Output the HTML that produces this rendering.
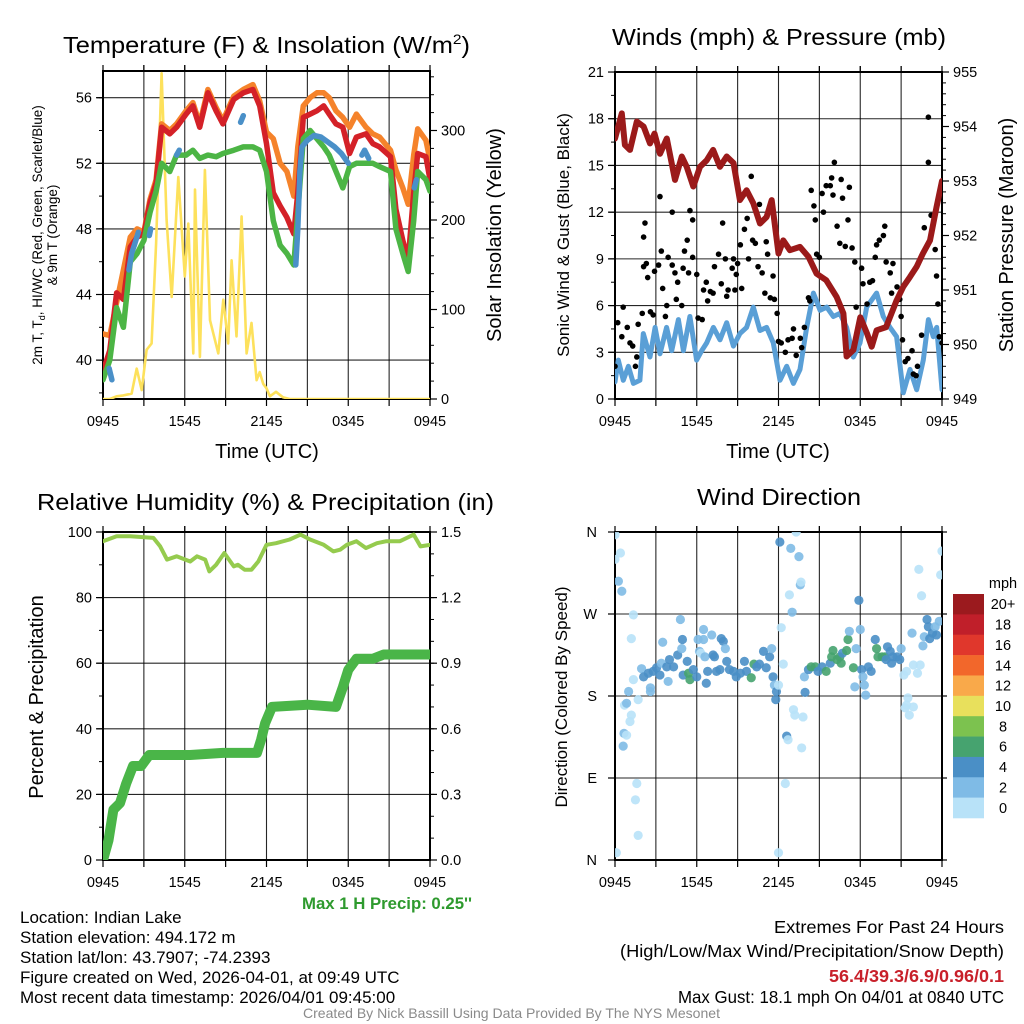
<!DOCTYPE html>
<html><head><meta charset="utf-8"><style>
html,body{margin:0;padding:0;background:#fff;}
svg{display:block;font-family:"Liberation Sans",sans-serif;}
</style></head><body>
<svg id="chart" width="1024" height="1024" viewBox="0 0 1024 1024" xmlns="http://www.w3.org/2000/svg">
<defs>
<clipPath id="c1"><rect x="103" y="71" width="327" height="328"/></clipPath>
<clipPath id="c2"><rect x="615" y="72" width="327" height="327"/></clipPath>
<clipPath id="c3"><rect x="103" y="532" width="327" height="328"/></clipPath>
<clipPath id="c4"><rect x="615" y="532" width="327" height="328"/></clipPath>
</defs>
<rect width="1024" height="1024" fill="#fff"/>
<text x="63" y="53" font-size="23" textLength="407" lengthAdjust="spacingAndGlyphs">Temperature (F) &amp; Insolation (W/m<tspan dy="-9" font-size="14">2</tspan><tspan dy="9">)</tspan></text>
<text x="612" y="45" font-size="23" textLength="334" lengthAdjust="spacingAndGlyphs">Winds (mph) &amp; Pressure (mb)</text>
<text x="37" y="510" font-size="23" textLength="457" lengthAdjust="spacingAndGlyphs">Relative Humidity (%) &amp; Precipitation (in)</text>
<text x="697" y="505" font-size="23" textLength="164" lengthAdjust="spacingAndGlyphs">Wind Direction</text>
<text x="267" y="458" font-size="20" text-anchor="middle">Time (UTC)</text>
<text x="778" y="458" font-size="20" text-anchor="middle">Time (UTC)</text>
<text transform="translate(42,235) rotate(-90)" font-size="13.5" text-anchor="middle">2m T, T<tspan font-size="9" dy="3">d</tspan><tspan dy="-3">, HI/WC (Red, Green, Scarlet/Blue)</tspan></text>
<text transform="translate(57,235) rotate(-90)" font-size="13.5" text-anchor="middle">&amp; 9m T (Orange)</text>
<text transform="translate(501,235) rotate(-90)" font-size="20" text-anchor="middle">Solar Insolation (Yellow)</text>
<text transform="translate(569,235) rotate(-90)" font-size="17" text-anchor="middle">Sonic Wind &amp; Gust (Blue, Black)</text>
<text transform="translate(1013,235) rotate(-90)" font-size="20" text-anchor="middle">Station Pressure (Maroon)</text>
<text transform="translate(43,697) rotate(-90)" font-size="20" text-anchor="middle">Percent &amp; Precipitation</text>
<text transform="translate(567,697) rotate(-90)" font-size="17" text-anchor="middle">Direction (Colored By Speed)</text>
<text x="302" y="909" font-size="16.8" font-weight="bold" fill="#2e9a2e" textLength="170" lengthAdjust="spacingAndGlyphs">Max 1 H Precip: 0.25''</text>
<g font-size="17" fill="#000">
<text x="20" y="923">Location: Indian Lake</text>
<text x="20" y="943">Station elevation: 494.172 m</text>
<text x="20" y="963">Station lat/lon: 43.7907; -74.2393</text>
<text x="20" y="983">Figure created on Wed, 2026-04-01, at 09:49 UTC</text>
<text x="20" y="1003">Most recent data timestamp: 2026/04/01 09:45:00</text>
</g>
<g font-size="17.5">
<text x="774" y="933" textLength="230" lengthAdjust="spacingAndGlyphs">Extremes For Past 24 Hours</text>
<text x="620" y="957" textLength="384" lengthAdjust="spacingAndGlyphs">(High/Low/Max Wind/Precipitation/Snow Depth)</text>
<text x="829" y="982" font-weight="bold" fill="#c8202a" textLength="175" lengthAdjust="spacingAndGlyphs">56.4/39.3/6.9/0.96/0.1</text>
<text x="678" y="1003" textLength="326" lengthAdjust="spacingAndGlyphs">Max Gust: 18.1 mph On 04/01 at 0840 UTC</text>
</g>
<text x="303" y="1018" font-size="14" fill="#8a8a8a" textLength="417" lengthAdjust="spacingAndGlyphs">Created By Nick Bassill Using Data Provided By The NYS Mesonet</text>
<g id="plots"></g>
</svg>
<script>
// ---------- Panel 1 data (hours since 0945 UTC) ----------
const redT = [0,0.5,1.0,1.5,2.0,2.5,3.0,3.45,3.9,4.3,4.9,5.4,6.1,6.6,7.1,7.7,8.3,8.8,9.6,10.3,11.0,11.5,12.0,12.5,13.0,13.5,14.0,14.3,14.7,15.2,15.7,16.2,16.6,17.1,17.6,18.1,18.6,19.3,19.8,20.3,21.1,21.5,22.0,22.4,22.8,23.1,23.7,24.0];
const redV = [39.3,40.6,44.1,43.7,46.9,47.5,47.7,49.6,50.8,54.2,53.8,54.2,55.0,55.5,54.2,56.3,55.2,54.4,55.9,56.3,56.5,55.5,53.2,50.2,49.4,48.7,47.7,50.2,54.8,55.0,55.2,55.5,55.0,54.4,54.2,52.6,53.6,53.8,53.2,53.0,52.4,49.2,47.3,46.1,50.2,52.6,52.4,51.0];
const orangeV = [41.6,41.5,43.5,45.5,47.5,48.0,47.8,49.8,51.0,54.4,54.0,54.4,55.2,55.7,54.4,56.5,55.4,54.6,56.1,56.5,56.8,55.8,53.9,53.5,52.0,51.5,50.0,53.0,55.5,56.0,56.3,56.3,56.0,55.2,54.8,54.2,55.0,54.2,53.8,53.6,52.8,51.6,50.5,49.5,52.5,54.1,53.4,52.2];
const greenV = [38.8,40.0,43.2,42.0,46.0,46.5,47.3,49.0,50.3,52.0,51.5,52.5,52.5,52.8,52.3,52.5,52.4,52.6,52.8,53.0,53.0,52.8,51.5,48.5,47.0,46.5,45.8,49.0,53.5,54.0,53.5,53.0,52.5,51.5,50.5,51.8,52.0,52.0,52.0,51.8,51.5,48.0,46.5,45.4,48.5,51.5,51.0,50.3];
const blueT = [0.45,0.65,null,1.9,2.1,2.3,2.6,null,3.4,3.5,null,5.4,5.6,null,10.1,10.3,null,14.15,14.3,14.45,14.6,15.0,15.5,16.0,16.5,17.0,17.5,18.0,null,19.0,19.2,19.5,null,22.85,23.0];
const blueV = [39.5,38.8,null,45.5,46.5,47.0,47.8,null,47.6,48.0,null,52.5,52.8,null,54.5,54.9,null,45.8,48.0,51.5,53.0,53.4,53.7,53.6,53.3,53.0,52.6,52.0,null,52.5,52.8,52.3,null,50.5,51.0];
const solarT = [0,0.5,1.0,1.5,2.1,2.47,2.84,3.2,3.57,3.9,4.3,4.67,5.04,5.53,6.0,6.26,6.63,6.75,7.11,7.48,7.85,8.46,8.83,9.19,9.44,9.8,10.17,10.54,10.9,11.27,11.5,11.76,12.0,12.25,12.7,13.2,13.7,24];
const solarV = [0,0,3,4,6,34,10,55,62,174,364,200,114,248,137,196,51,234,47,256,88,51,111,62,155,70,204,51,85,21,30,17,12,3,8,2,0,0];
// ---------- Panel 2 data ----------
const presT = [0,0.5,0.73,1.1,1.6,2.1,2.57,2.9,3.3,3.8,4.4,4.9,5.26,5.75,6.24,6.73,7.2,7.7,8.2,8.7,9.17,9.66,10.15,10.64,11.13,11.5,12.0,12.35,12.84,13.58,14.2,14.8,15.5,16.27,16.76,17.0,17.5,18.0,18.5,18.84,19.2,19.9,20.67,21.16,21.65,22.14,22.6,23.12,23.6,24.0];
const presV = [953.78,954.24,953.66,953.57,954.09,954.0,953.69,953.87,953.5,953.78,953.02,953.45,953.26,952.9,953.26,953.38,953.57,953.26,953.45,953.33,952.65,952.83,952.59,952.22,952.34,952.65,951.67,951.91,951.73,951.79,951.61,951.3,951.18,950.87,950.57,949.78,949.9,950.5,950.2,949.96,950.26,950.32,950.81,951.06,951.24,951.43,951.67,951.91,952.52,953.0];
const windT = [0,0.24,0.61,0.98,1.35,1.83,2.08,2.57,2.94,3.3,3.79,4.16,4.65,5.02,5.5,5.99,6.36,6.73,7.22,7.71,8.2,8.69,9.17,9.66,10.15,10.64,11.13,11.62,12.11,12.6,13.09,13.58,14.07,14.56,15.05,15.54,16.02,16.51,17.0,17.49,17.98,18.47,19.2,19.69,20.18,20.67,21.16,21.65,22.14,22.63,23.0,23.36,23.61,24.0];
const windV = [1.1,2.5,1.2,2.1,1.0,1.2,4.2,2.7,4.6,2.9,4.6,3.1,5.1,3.1,5.3,2.5,3.1,3.6,4.6,3.8,4.9,3.4,4.2,4.6,5.9,4.4,4.6,3.6,1.2,2.1,1.0,1.9,4.6,6.8,5.7,5.9,5.3,5.5,4.6,2.7,3.6,5.9,6.8,5.3,4.6,4.0,0.4,1.9,0.6,2.5,5.1,4.0,4.6,0.6];
const gustT = [0.0,0.2,0.5,0.6,0.9,1.1,1.3,1.5,1.6,1.7,2.0,2.1,2.2,2.1,2.3,2.4,2.6,2.8,2.9,3.2,3.3,3.4,3.5,3.7,3.8,3.9,4.2,4.2,4.4,4.5,4.6,4.9,5.0,5.1,5.3,5.4,5.5,5.7,5.7,6.0,6.1,6.4,6.5,6.7,6.8,7.0,7.2,7.3,7.6,7.8,7.9,8.1,8.2,8.3,8.6,8.7,8.8,8.9,9.0,9.2,9.3,9.5,9.7,9.8,10.0,10.1,10.3,10.5,10.6,10.8,11.0,11.1,11.2,11.4,11.6,11.7,11.9,12.0,12.2,12.5,12.7,13.0,13.1,13.3,13.6,13.7,13.9,14.2,14.3,14.4,14.6,14.7,14.8,15.0,15.2,15.3,15.5,15.8,15.9,16.0,16.1,16.3,16.5,16.6,16.7,16.9,17.1,17.2,17.4,17.6,17.7,18.0,18.1,18.2,18.5,18.7,18.9,19.1,19.2,19.4,19.7,19.8,19.9,20.2,20.3,20.4,20.7,20.9,21.0,21.1,21.3,21.5,21.8,21.9,22.1,22.2,22.5,22.7,23.0,23.0,23.2,23.5,23.6,23.7,23.8,24.0];
const gustV = [2.1,4.9,4.0,5.9,4.6,3.6,3.4,2.1,2.7,4.8,5.5,10.4,11.3,8.5,8.7,7.8,5.6,5.4,8.2,8.6,13.0,9.5,7.1,5.3,6.0,9.1,12.0,8.6,8.1,6.4,7.5,6.0,8.4,9.5,10.2,8.1,12.1,11.5,9.1,8.0,5.2,5.1,7.0,7.5,6.3,6.9,6.8,8.5,9.3,7.4,11.3,9.0,6.6,7.0,8.4,9.0,7.0,8.0,8.7,9.9,7.1,10.9,11.6,9.0,14.3,10.2,10.0,8.5,12.5,8.1,6.8,10.1,9.3,6.5,7.9,6.4,5.5,3.7,3.6,3.0,3.8,3.9,4.5,2.8,3.9,3.3,4.6,6.5,6.3,13.4,12.4,11.5,9.3,9.1,13.2,12.0,13.7,13.7,14.2,13.1,15.2,11.1,10.0,14.1,12.9,9.8,11.5,13.6,9.7,8.8,5.9,4.9,8.4,7.4,6.1,7.5,7.6,9.1,9.9,10.2,10.5,11.1,8.8,8.1,6.8,8.7,7.2,6.4,5.3,3.8,2.4,2.6,3.1,1.6,1.5,2.1,4.1,11.0,18.1,15.2,11.8,9.6,7.9,6.1,4.0,3.6];
// ---------- Panel 3 data ----------
const rhT = [0,1.0,2.0,3.7,4.2,4.7,5.4,6.4,6.9,7.5,7.8,8.3,8.9,9.6,9.9,10.4,10.9,11.4,12.0,12.7,13.7,14.5,15.2,16.2,16.9,17.4,17.9,18.6,19.3,20.1,20.8,21.8,22.8,23.3,24.0];
const rhV = [97.2,98.7,98.7,98.2,95.6,91.6,92.6,91.0,92.6,91.6,88.0,90.0,93.6,89.5,90.0,88.5,88.5,91.0,96.1,96.6,97.7,99.2,97.7,96.1,94.1,94.6,96.1,97.2,95.1,96.6,97.2,97.2,99.2,95.6,96.1];
const precipT = [0,0.4,0.76,1.25,1.7,2.2,2.8,3.4,6.4,8.8,11.3,11.6,11.9,12.4,15.0,17.1,17.6,18.0,18.6,19.8,20.6,24.0];
const precipV = [0,0.09,0.23,0.26,0.35,0.43,0.43,0.48,0.48,0.49,0.49,0.55,0.625,0.70,0.71,0.70,0.79,0.87,0.92,0.92,0.94,0.94];
// ---------- Panel 4 data ----------
const dirT = [0,0.4,0,0.25,0.5,1.35,1.2,1.35,1.0,0.7,0.85,1.2,1.1,0.66,0.85,0.6,1.6,1.5,1.7,0.1,1.7,1.95,2.1,2.6,2.6,2.45,2.8,3.05,3.3,3.5,3.4,3.8,3.9,4.0,4.3,4.6,4.8,4.9,4.95,5.0,5.3,5.4,5.5,5.75,6.0,6.1,6.2,6.3,6.5,6.5,6.6,6.7,6.8,7.1,7.2,7.3,7.45,7.7,7.8,7.95,8.1,8.2,8.4,8.7,8.9,9.2,9.5,9.65,10.0,10.2,10.4,10.6,10.9,11.1,11.35,11.5,11.6,11.7,11.85,11.8,12.0,12.1,12.0,12.2,12.35,12.5,12.6,12.7,12.8,12.9,13.0,13.1,13.2,13.3,13.5,13.6,13.65,13.7,13.8,13.9,13.95,14.2,14.4,14.7,14.9,15.2,15.5,15.8,15.9,16.0,16.3,16.5,16.6,16.7,17.0,17.1,17.2,17.5,17.6,17.7,17.9,18.0,18.1,18.2,18.3,18.4,18.6,18.8,19.1,19.2,19.3,19.6,19.8,19.9,20.0,20.2,20.3,20.4,20.7,20.9,21.0,21.2,21.4,21.5,21.3,21.4,21.6,21.9,21.8,21.9,22.2,22.4,22.3,22.5,22.6,22.7,22.9,23.0,23.1,23.3,23.5,23.6,23.8,24.0,23.9];
const dirDeg = [357,337,330,306,295,269,243,198,185,170,172,159,152,139,137,125,84,66,27,8,176,210,201,189,185,205,207,211,203,239,216,212,196,220,212,225,264,232,242,203,218,205,198,209,201,242,229,227,253,242,223,194,207,247,225,223,207,209,243,240,232,218,209,207,201,205,218,207,200,215,212,215,229,211,223,232,201,192,185,176,192,349,8,255,215,84,136,132,291,342,272,165,159,360,333,302,305,123,157,201,184,209,212,212,207,212,207,216,223,230,220,223,216,227,230,242,251,211,190,232,285,253,209,201,192,181,212,207,242,232,223,223,223,220,234,229,216,223,223,220,232,203,207,178,167,170,159,168,249,214,205,214,319,290,235,245,264,256,243,249,256,247,262,339,313];
const dirSpd = [1,1,1,3,3,1,1,1,3,1,3,1,1,3,1,3,1,1,1,1,1,3,4.5,3,3,4.5,4.5,4.5,4.5,3,3,4.5,3,4.5,4.5,4.5,3,3,4.5,4.5,4.5,7,7,4.5,4.5,3,3,1,3,3,3,4.5,4.5,3,4.5,4.5,4.5,4.5,4.5,4.5,3,4.5,4.5,4.5,4.5,4.5,4.5,4.5,7,7,4.5,4.5,4.5,4.5,4.5,3,4.5,3,4.5,4.5,1,4.5,1,1,1,1,4.5,1,1,3,3,1,1,1,3,3,1,1,1,3,4.5,4.5,7,7,4.5,4.5,7,4.5,7,7,7,7,7,4.5,7,7,3,7,3,3,4.5,3,4.5,3,3,3,4.5,4.5,4.5,7,7,7,7,4.5,4.5,4.5,4.5,4.5,4.5,4.5,3,1,1,1,1,1,1,1,3,1,1,1,1,1,3,3,4.5,4.5,4.5,4.5,3,4.5,3,1,1];
const cbLabels = ["20+","18","16","14","12","10","8","6","4","2","0"];
const cbColors = ["#9b1a1e","#c01f2a","#e0372c","#f2672b","#f9a94a","#e8e05c","#7cc24f","#46a36f","#4a8fc6","#7fbbe6","#b8e2f8"];
const timeLabels = ["0945","1545","2145","0345","0945"];

const NS = "http://www.w3.org/2000/svg";
const root = document.getElementById("plots");
function mk(tag, attrs, parent) {
  const el = document.createElementNS(NS, tag);
  for (const k in attrs) el.setAttribute(k, attrs[k]);
  (parent || root).appendChild(el);
  return el;
}
function txt(str, attrs, parent) { const t = mk("text", attrs, parent); t.textContent = str; return t; }

const P1 = {x0:103,x1:430,y0:71,y1:399};
const P2 = {x0:615,x1:942,y0:72,y1:399};
const P3 = {x0:103,x1:430,y0:532,y1:860};
const P4 = {x0:615,x1:942,y0:532,y1:860};
function xs(P, h) { return P.x0 + h / 24 * (P.x1 - P.x0); }
const y1L = v => 97.7 + (56 - v) * 16.4;
const y1R = v => 399 - v * 0.895;
const y2L = v => 399 - v * 15.57;
const y2R = p => 399 - (p - 949) * 54.5;
const y3L = v => 860 - v * 3.28;
const y3R = p => 860 - p / 1.5 * 328;
const y4 = d => 860 - d / 360 * 328;

function frame(P, name, gridYs) {
  const g = mk("g", {});
  
  
  for (let h = 3; h < 24; h += 3) {
    const gl = mk("line", {x1:xs(P,h),x2:xs(P,h),y1:P.y0-6,y2:P.y1,stroke:"#000","stroke-width":1.1,"stroke-opacity":0.85}, g);
    
    
  }
  gridYs.forEach(y => {
    const gl = mk("line", {x1:P.x0-6,x2:P.x1,y1:y,y2:y,stroke:"#000","stroke-width":1.1,"stroke-opacity":0.85}, g);
    
    
  });
  for (let h = 0; h <= 24; h += 3) {
    mk("line", {x1:xs(P,h),x2:xs(P,h),y1:P.y1,y2:P.y1+7,stroke:"#000","stroke-width":1.2}, g);
    mk("line", {x1:xs(P,h),x2:xs(P,h),y1:P.y0,y2:P.y0-6,stroke:"#000","stroke-width":1.2}, g);
  }
  timeLabels.forEach((s, i) => {
    const t = txt(s, {x:xs(P,i*6),y:P.y1+27,"font-size":14.5,"text-anchor":"middle"}, g);
    
    
  });
  const b = mk("rect", {x:P.x0,y:P.y0,width:P.x1-P.x0,height:P.y1-P.y0,fill:"none",stroke:"#000","stroke-width":2}, g);
  
  
  return g;
}
function yAxis(P, side, name, majors, minors, scale, fmt) {
  const g = mk("g", {});
  
  
  const x = side === "left" ? P.x0 : P.x1;
  const dir = side === "left" ? -1 : 1;
  minors.forEach(v => mk("line", {x1:x,x2:x+dir*4,y1:scale(v),y2:scale(v),stroke:"#000","stroke-width":1}, g));
  majors.forEach(v => {
    mk("line", {x1:x,x2:x+dir*7,y1:scale(v),y2:scale(v),stroke:"#000","stroke-width":1.2}, g);
    const t = txt(fmt(v), {x:x+dir*11,y:scale(v)+5,"font-size":14.5,"text-anchor":side==="left"?"end":"start"}, g);
    
    
  });
}
function range(a, b, s) { const r = []; for (let v = a; v <= b + 1e-9; v += s) r.push(+v.toFixed(3)); return r; }
function pathD(P, ts, vs, scale) {
  let d = "", pen = false;
  for (let i = 0; i < ts.length; i++) {
    if (ts[i] === null || vs[i] === null) { pen = false; continue; }
    d += (pen ? "L" : "M") + xs(P, ts[i]).toFixed(1) + "," + scale(vs[i]).toFixed(1);
    pen = true;
  }
  return d;
}
function line(P, clip, ts, vs, scale, color, w, name) {
  const p = mk("path", {d:pathD(P, ts, vs, scale),fill:"none",stroke:color,"stroke-width":w,"stroke-linejoin":"round","stroke-linecap":"round","clip-path":"url(#"+clip+")"});
  
  
  return p;
}

// ---------- Panel 1 ----------
frame(P1, "temperature", [56,52,48,44,40].map(y1L));
yAxis(P1, "left", "temperature-y-axis", [40,44,48,52,56], range(38,57,2), y1L, v => String(v));
yAxis(P1, "right", "insolation-y-axis", [0,100,200,300], range(0,360,20), y1R, v => String(v));
line(P1, "c1", solarT, solarV, y1R, "#fde15c", 2.6, "solar-insolation-line");
line(P1, "c1", redT, orangeV, y1L, "#f5832b", 5.5, "9m-temperature-line");
line(P1, "c1", redT, redV, y1L, "#d42128", 5.5, "2m-temperature-line");
line(P1, "c1", redT, greenV, y1L, "#4cb545", 5.5, "dewpoint-line");
line(P1, "c1", blueT, blueV, y1L, "#4a90c8", 5.5, "heat-index-wind-chill-line");

// ---------- Panel 2 ----------
frame(P2, "winds", [3,6,9,12,15,18].map(y2L));
yAxis(P2, "left", "wind-speed-y-axis", [0,3,6,9,12,15,18,21], range(1.5,19.5,3), y2L, v => String(v));
yAxis(P2, "right", "pressure-y-axis", [949,950,951,952,953,954,955], range(949,955,0.2), y2R, v => String(v));
line(P2, "c2", windT, windV, y2L, "#5a9fd6", 5, "sonic-wind-line");
const gg = mk("g", {"clip-path":"url(#c2)"});


for (let i = 0; i < gustT.length; i++) {
  const c = mk("circle", {cx:xs(P2,gustT[i]),cy:y2L(gustV[i]),r:2.8,fill:"#000"}, gg);
  
  
}
line(P2, "c2", presT, presV, y2R, "#9b1a1a", 6, "station-pressure-line");

// ---------- Panel 3 ----------
frame(P3, "humidity", [20,40,60,80].map(y3L));
yAxis(P3, "left", "percent-y-axis", [0,20,40,60,80,100], range(10,90,20), y3L, v => String(v));
yAxis(P3, "right", "precip-y-axis", [0,0.3,0.6,0.9,1.2,1.5], range(0,1.5,0.1), y3R, v => v.toFixed(1));
line(P3, "c3", rhT, rhV, y3L, "#95cb4e", 4, "relative-humidity-line");
line(P3, "c3", precipT, precipV, y3R, "#4ab548", 10, "accumulated-precip-line");

// ---------- Panel 4 ----------
frame(P4, "direction", [90,180,270].map(y4));
const dirLabels = ["N","E","S","W","N"];
const dg = mk("g", {});


[0,90,180,270,360].forEach((d, i) => {
  mk("line", {x1:P4.x0,x2:P4.x0-7,y1:y4(d),y2:y4(d),stroke:"#000","stroke-width":1.2}, dg);
  mk("line", {x1:P4.x1,x2:P4.x1+5,y1:y4(d),y2:y4(d),stroke:"#000","stroke-width":1.2}, dg);
  const t = txt(dirLabels[i], {x:P4.x0-18,y:y4(d)+5,"font-size":14.5,"text-anchor":"end"}, dg);
  
  
});
function spdColor(s) { const idx = Math.min(10, Math.floor(s / 2)); return cbColors[10 - idx]; }
const dp = mk("g", {"clip-path":"url(#c4)"});


for (let i = 0; i < dirT.length; i++) {
  const c = mk("circle", {cx:xs(P4,dirT[i]),cy:y4(dirDeg[i]),r:4.6,fill:spdColor(dirSpd[i]),"fill-opacity":0.9}, dp);
  
  
}
// colorbar
const cb = mk("g", {});


const cbt = txt("mph", {x:1003,y:588,"font-size":14.5,"text-anchor":"middle"}, cb);


const bh = 224 / cbLabels.length;
cbLabels.forEach((lab, i) => {
  const r = mk("rect", {x:953,y:594+i*bh,width:31,height:bh+0.3,fill:cbColors[i]}, cb);
  
  
  const t = txt(lab, {x:1003,y:594+i*bh+bh/2+5,"font-size":14.5,"text-anchor":"middle"}, cb);
  
  
});
</script>
</body></html>
